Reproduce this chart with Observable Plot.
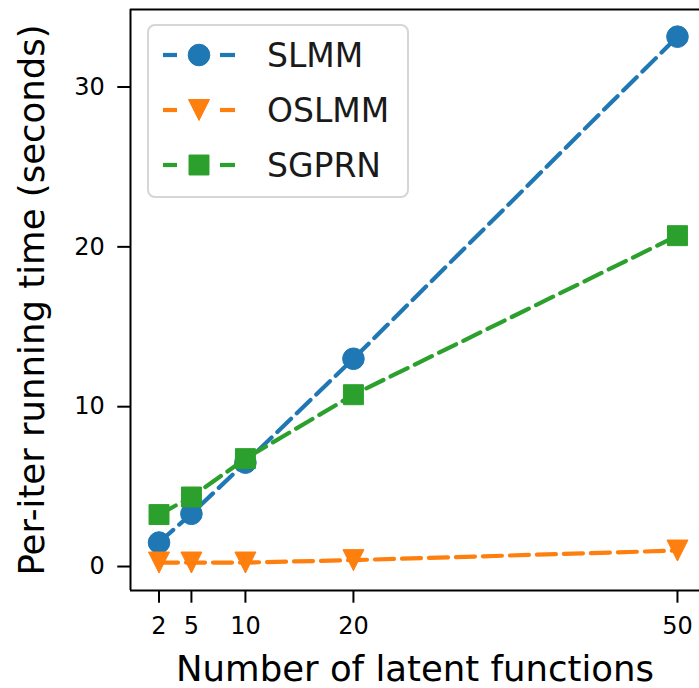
<!DOCTYPE html>
<html><head><meta charset="utf-8">
<script src="https://cdn.jsdelivr.net/npm/d3@7"></script>
<script src="https://cdn.jsdelivr.net/npm/@observablehq/plot@0.6"></script>
<style>
body{margin:0;background:#fff;}
#chart{position:relative;width:699px;height:688px;overflow:hidden;}
#chart svg{font-family:"DejaVu Sans",sans-serif;}
</style></head><body><div id="chart"></div>
<script>
const latent = [2, 5, 10, 20, 50];
const slmm = [1.5, 3.3, 6.5, 13.0, 33.15];
const oslmm = [0.25, 0.25, 0.25, 0.4, 1.0];
const sgprn = [3.25, 4.35, 6.75, 10.75, 20.7];
const seriesNames = ["SLMM", "OSLMM", "SGPRN"];
const seriesColors = ["#1f77b4", "#ff7f0e", "#2ca02c"];
const xTicks = [2, 5, 10, 20, 50];
const yTicks = [0, 10, 20, 30];
const xLabel = "Number of latent functions";
const yLabel = "Per-iter running time (seconds)";

const xDomain = [-0.64, 52.04];
const yDomain = [-1.5, 34.85];

const downTri = {draw(ctx, size){const h = Math.sqrt(size/Math.PI); ctx.moveTo(-h,-h); ctx.lineTo(h,-h); ctx.lineTo(0,h); ctx.closePath();}};
const sq = {draw(ctx, size){const h = Math.sqrt(size/Math.PI)*0.95; ctx.rect(-h,-h,2*h,2*h);}};
const symbols = [d3.symbolCircle, downTri, sq];
const radii = [10.8, 10.5, 10.5];

const allValues = [slmm, oslmm, sgprn];
const rows = [];
seriesNames.forEach((s, i) => latent.forEach((x, j) => rows.push({series: s, x, y: allValues[i][j]})));

const marks = [];
seriesNames.forEach((s, i) => {
  const d = rows.filter(r => r.series === s);
  marks.push(Plot.line(d, {x: "x", y: "y", stroke: seriesColors[i], strokeWidth: 4.2, strokeDasharray: "19,8"}));
  marks.push(Plot.dot(d, {x: "x", y: "y", fill: seriesColors[i], stroke: seriesColors[i], strokeWidth: 1, symbol: () => symbols[i], r: radii[i]}));
});

const plot = Plot.plot({
  width: 699, height: 688,
  marginLeft: 130, marginRight: 0, marginTop: 9, marginBottom: 98,
  style: {fontFamily: "DejaVu Sans", background: "#fff"},
  x: {domain: xDomain, ticks: xTicks},
  y: {domain: yDomain, ticks: yTicks},
  symbol: {type: "identity"},
  marks: [
    Plot.axisX({ticks: xTicks, tickSize: 12.7, tickPadding: 14, fontSize: 24, strokeWidth: 2, label: xLabel, labelAnchor: "center", labelOffset: 90.5, labelArrow: "none"}),
    Plot.axisY({ticks: yTicks, tickSize: 12.7, tickPadding: 13, fontSize: 24, strokeWidth: 2, label: yLabel, labelAnchor: "center", labelOffset: 112, labelArrow: "none"}),
    ...marks,
    Plot.ruleX([xDomain[0]], {stroke: "black", strokeWidth: 2}),
    Plot.ruleY([yDomain[0], yDomain[1]], {stroke: "black", strokeWidth: 2})
  ]
});
document.getElementById("chart").appendChild(plot);

d3.select(plot).selectAll('g[aria-label="x-axis label"] text, g[aria-label="y-axis label"] text').style("font-size", "35.5px");

// legend inside the plot area
const lg = d3.select(plot).append("g").attr("transform", "translate(148,25)");
lg.append("rect").attr("width", 260).attr("height", 172).attr("rx", 7).attr("fill", "white").attr("fill-opacity", 0.8).attr("stroke", "#d6d6d6").attr("stroke-width", 2);
seriesNames.forEach((s, i) => {
  const g = lg.append("g").attr("transform", `translate(0,${30 + i*55})`);
  g.append("line").attr("x1", 15).attr("x2", 29).attr("stroke", seriesColors[i]).attr("stroke-width", 4.2);
  g.append("line").attr("x1", 72).attr("x2", 87).attr("stroke", seriesColors[i]).attr("stroke-width", 4.2);
  g.append("path").attr("transform", "translate(51,0)").attr("d", d3.symbol(symbols[i], Math.PI*radii[i]*radii[i])()).attr("fill", seriesColors[i]).attr("stroke", seriesColors[i]);
  g.append("text").attr("x", 119).attr("dy", "0.36em").attr("text-anchor", "start").attr("font-size", 33).attr("fill", "#1a1a1a").text(s);
});
</script></body></html>
